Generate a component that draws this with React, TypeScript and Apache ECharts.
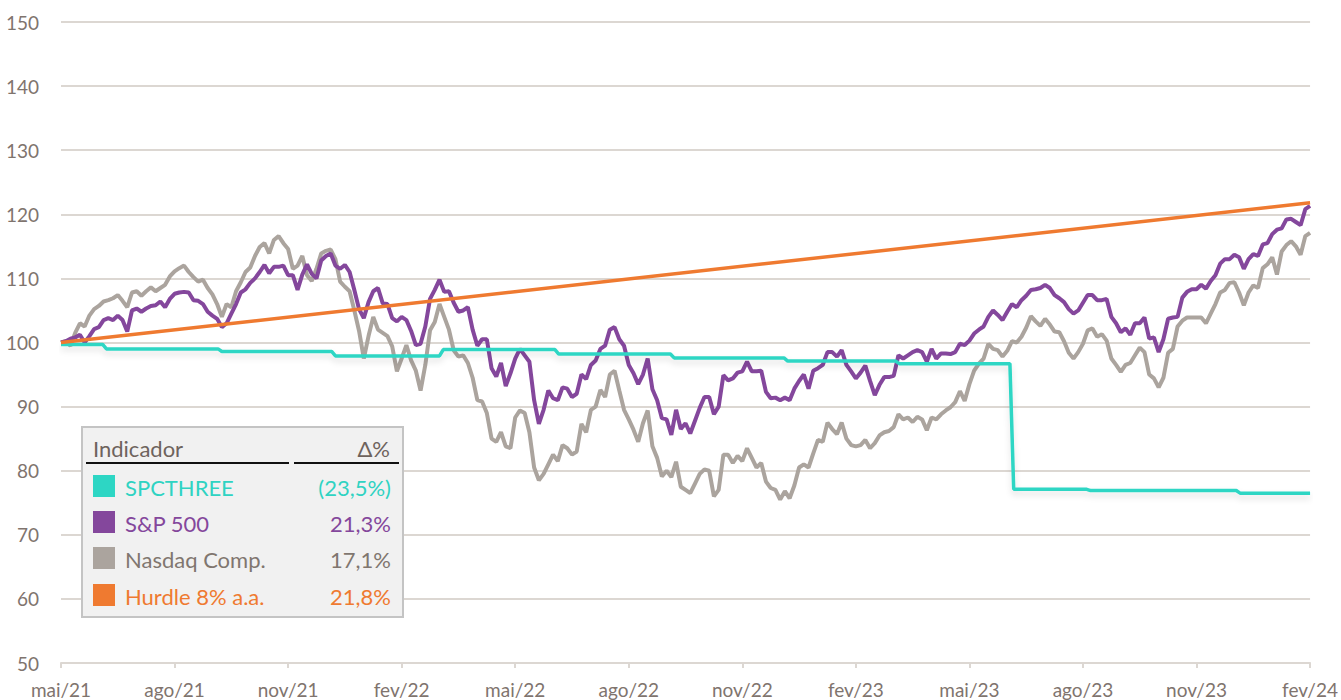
import React, { useEffect, useRef } from "react";
import * as echarts from "echarts";

// x axis: months since mai/21, one label every 3 months
const xLabels = ["mai/21", "ago/21", "nov/21", "fev/22", "mai/22", "ago/22", "nov/22", "fev/23", "mai/23", "ago/23", "nov/23", "fev/24"];
const STEP = 0.125; // months between samples (8 per month)

// one row per month
const sp500 = [
  100, 100.2, 100.6, 100.8, 101.2, 100.0, 101, 102.1,
  102.4, 103.5, 103.8, 103.5, 104.2, 103.5, 101.7, 105,
  105.3, 104.8, 105.3, 105.7, 105.8, 106.4, 105.5, 106.8,
  107.6, 107.8, 107.9, 107.8, 106.6, 106.5, 106, 104.8,
  104.2, 103.7, 102.4, 103, 104.5, 106, 107.8, 108.3,
  109.3, 110, 111, 112.1, 110.8, 111.8, 111.8, 112,
  110.5, 110.5, 108.2, 110.6, 112.2, 110.7, 110, 112.8,
  113.5, 113.9, 112, 111.5, 112.1, 111, 108.2, 105.2,
  103.8, 106.3, 108, 108.5, 106.1, 106, 103.8, 103.3,
  104, 103.5, 101.8, 99.6, 99.8, 102.5, 106.8, 108.2,
  109.8, 107.9, 108, 106.2, 104.8, 105, 105.5, 102,
  99.5, 100.5, 100.5, 96, 94.7, 96.8, 93.2, 95.2,
  97.5, 99, 98, 97, 91, 87.3, 89.5, 92.5,
  91.3, 91, 93, 92.8, 91.5, 92, 95, 94.3,
  96.5, 97.2, 99, 99.5, 102, 102.4, 100.5, 99.5,
  96.5, 95.2, 93.5, 95, 97.5, 92.7, 91, 88.2,
  88, 85.6, 89.5, 86.5, 87.4, 85.8, 87.8, 89.8,
  91.5, 91.5, 88.8, 90, 94.9, 94.1, 94.4, 95.3,
  95.5, 97, 95.5, 95.5, 95.6, 92.3, 91.3, 91.4,
  91, 91.4, 91, 92.8, 94, 95, 92.8, 95.6,
  96, 96.5, 98.5, 98.5, 97.8, 98.8, 96.5, 95.5,
  94.4, 95.3, 96.4, 94, 91.8, 93.4, 94.6, 94.6,
  94.8, 98, 97.5, 98, 98.5, 98.8, 98.5, 97,
  99, 97.5, 98.3, 98.3, 98.2, 98.5, 99.8, 99.6,
  100.3, 101.4, 102, 102.5, 104, 105, 104.3, 103.5,
  104.8, 106, 105.5, 106.6, 107.3, 108.2, 108.3, 108.5,
  109, 108.5, 107.4, 106.9, 106.3, 105.2, 104.5, 105,
  106.2, 107.4, 107.4, 106.6, 106.6, 106.8, 104, 103,
  101.6, 102.2, 101.2, 103, 103, 103.9, 100.6, 100.8,
  98.5, 100.5, 103.7, 103.9, 104, 107, 107.9, 108.3,
  108.3, 109, 108.4, 109.6, 110.5, 112.3, 113, 113,
  113.7, 113.3, 111.5, 113, 113.8, 113.5, 115.3, 115.5,
  116.9, 117.6, 117.8, 119.2, 119.3, 118.8, 118.3, 120.8,
  121.3,
];

const nasdaq = [
  100, 100.2, 99.5, 101.5, 103, 102.5, 104.2, 105.2,
  105.7, 106.4, 106.6, 106.9, 107.4, 106.5, 105.5, 107.8,
  108, 107.3, 108, 108.6, 108, 108.5, 109, 110.3,
  111.1, 111.6, 112, 111, 110.2, 109.5, 109.8, 108.5,
  107.5, 106, 104, 106, 105.5, 108, 109.4, 111,
  111.7, 113.5, 114.9, 115.5, 113.9, 116, 116.6, 115.5,
  114.6, 111.5, 112, 113.5, 110.5, 109.6, 111.5, 113.9,
  114.3, 114.5, 113, 109.5, 108.7, 108, 105, 101.8,
  97.5, 101, 104, 102, 101.5, 101, 99.4, 95.5,
  97.5, 99.6, 97.2, 95.6, 92.5, 96.5, 101.9, 103.2,
  106, 104, 102, 98.8, 97.8, 98, 96.8, 94.5,
  91, 90.8, 89, 85, 84.5, 86, 83.8, 83.5,
  88.3, 89.4, 89, 86, 80.5, 78.5, 79.5, 81,
  82.5, 81.5, 84, 83.5, 82.5, 83, 87.3, 86,
  89.5, 90, 92.6, 91.5, 95, 95.6, 92.5, 89.5,
  88, 86.4, 84.5, 87.4, 89.4, 83.8, 82, 79.1,
  80, 79, 81.4, 77.5, 77, 76.5, 78, 79.5,
  80.2, 80, 76, 77, 82.5, 82.5, 81.2, 82.3,
  81.5, 83.5, 82, 80.5, 81.2, 78.3, 77.3, 77,
  75.5, 76.8, 75.7, 77.7, 80.5, 81, 80.5, 82.7,
  84.8, 84.5, 87.5, 86.5, 85.7, 87.5, 85, 84,
  83.8, 84, 84.8, 83.5, 84.3, 85.5, 86, 86.2,
  86.8, 88.8, 88, 88.3, 87.6, 88.4, 88, 86.3,
  88.3, 88, 88.8, 89.4, 89.9, 90.7, 92.4, 90.9,
  93.5, 95.6, 96.7, 97.5, 99.8, 99, 98.8, 97.8,
  98.7, 100.2, 100, 100.9, 102.3, 104.1, 103.3, 102.6,
  103.7, 102.8, 101.7, 101.6, 100.2, 98.4, 97.5, 98.5,
  99.8, 101.9, 102.2, 100.9, 101.3, 100.3, 97.5, 96.5,
  95.4, 96.5, 96.8, 98, 99.2, 98.5, 95, 94.4,
  93, 94.5, 98.4, 99, 102.5, 103.4, 103.9, 103.9,
  103.9, 103.9, 103, 104.5, 106, 107.8, 108.2, 109.3,
  109.4, 107.8, 105.8, 107.8, 108.9, 108.5, 111.6, 112.2,
  113.3, 110.6, 114.2, 115.2, 115.8, 115, 113.7, 116.6,
  117.1,
];

// [month, value]
const spcthree = [
  [0, 99.7], [1.1, 99.7], [1.2, 99.0], [4.15, 99.0], [4.25, 98.6], [7.15, 98.6],
  [7.25, 97.9], [10.0, 97.9], [10.1, 98.9], [13.05, 98.9], [13.15, 98.2], [16.1, 98.2],
  [16.2, 97.6], [19.1, 97.6], [19.2, 97.1], [22.05, 97.1], [22.15, 96.7], [25.07, 96.7],
  [25.17, 77.1], [27.1, 77.1], [27.2, 76.9], [31.05, 76.9], [31.15, 76.5], [33, 76.5],
];

const hurdle = [[0, 100], [33, 121.8]];

const legendNames = ["SPCTHREE", "S&P 500", "Nasdaq Comp.", "Hurdle 8% a.a."];
const legendChanges = ["(23,5%)", "21,3%", "17,1%", "21,8%"];
const lineColors = ["#2dd6c4", "#84479c", "#aba49e", "#ef7a30"];
const textColors = ["#2fd3c2", "#84479c", "#80766f", "#ef7a30"];

const FONT = "Lato, 'Open Sans', sans-serif";

export default function App() {
  const ref = useRef<HTMLDivElement>(null);
  useEffect(() => {
    if (!ref.current) return;
    const chart = echarts.init(ref.current, null, { renderer: "svg" });

    const rowY = [486, 522, 558, 595];
    const legendEls: any[] = [
      {
        type: "rect",
        shape: { x: 82, y: 427, width: 321, height: 190 },
        style: { fill: "#f1f1f1", stroke: "#c4c4c4", lineWidth: 2 },
        z: 100,
      },
      {
        type: "text",
        x: 93,
        y: 448,
        style: { text: "Indicador", fill: "#6e635d", font: `22px ${FONT}`, align: "left", verticalAlign: "middle" },
        z: 101,
      },
      {
        type: "text",
        x: 390,
        y: 448,
        style: { text: "Δ%", fill: "#6e635d", font: `22px ${FONT}`, align: "right", verticalAlign: "middle" },
        z: 101,
      },
      { type: "line", shape: { x1: 86, y1: 463, x2: 289, y2: 463 }, style: { stroke: "#111", lineWidth: 2 }, z: 101 },
      { type: "line", shape: { x1: 294, y1: 463, x2: 399, y2: 463 }, style: { stroke: "#111", lineWidth: 2 }, z: 101 },
    ];
    legendNames.forEach((name, i) => {
      legendEls.push({
        type: "rect",
        shape: { x: 93, y: rowY[i] - 11, width: 22, height: 22 },
        style: { fill: lineColors[i] },
        z: 101,
      });
      legendEls.push({
        type: "text",
        x: 125,
        y: rowY[i] + 1,
        style: { text: name, fill: textColors[i], font: `22px ${FONT}`, align: "left", verticalAlign: "middle" },
        z: 101,
      });
      legendEls.push({
        type: "text",
        x: 391,
        y: rowY[i] + 1,
        style: { text: legendChanges[i], fill: textColors[i], font: `22px ${FONT}`, align: "right", verticalAlign: "middle" },
        z: 101,
      });
    });

    chart.setOption({
      animation: false,
      grid: { left: 61, right: 27, top: 22, bottom: 37, containLabel: false },
      xAxis: {
        type: "value",
        min: 0,
        max: 33,
        interval: 3,
        axisLine: { show: true, lineStyle: { color: "#dcd7d2", width: 2 } },
        axisTick: { show: true, length: 5, lineStyle: { color: "#dcd7d2", width: 2 } },
        splitLine: { show: false },
        axisLabel: {
          margin: 17,
          color: "#7f746e",
          fontSize: 19,
          fontFamily: FONT,
          showMinLabel: true,
          showMaxLabel: true,
          formatter: (v: number) => xLabels[Math.round(v / 3)] ?? "",
        },
      },
      yAxis: {
        type: "value",
        min: 50,
        max: 150,
        interval: 10,
        axisLine: { show: false },
        axisTick: { show: false },
        splitLine: { show: true, lineStyle: { color: "#dcd7d2", width: 2 } },
        axisLabel: { margin: 22, color: "#7f746e", fontSize: 19, fontFamily: FONT },
      },
      series: [
        {
          name: "Nasdaq Comp.",
          type: "line",
          data: nasdaq.map((v, i) => [i * STEP, v]),
          symbol: "none",
          lineStyle: { color: lineColors[2], width: 4 },
          z: 2,
        },
        {
          name: "S&P 500",
          type: "line",
          data: sp500.map((v, i) => [i * STEP, v]),
          symbol: "none",
          lineStyle: { color: lineColors[1], width: 4 },
          z: 3,
        },
        {
          name: "SPCTHREE",
          type: "line",
          data: spcthree,
          symbol: "none",
          lineStyle: {
            color: lineColors[0],
            width: 3.5,
            shadowBlur: 6,
            shadowColor: "rgba(0,0,0,0.12)",
            shadowOffsetY: 4,
          },
          z: 4,
        },
        {
          name: "Hurdle 8% a.a.",
          type: "line",
          data: hurdle,
          symbol: "none",
          lineStyle: { color: lineColors[3], width: 3.5 },
          z: 5,
        },
      ],
      graphic: { elements: legendEls },
    });
    return () => chart.dispose();
  }, []);
  return (
    <div
      ref={ref}
      style={{ position: "fixed", left: 0, top: 0, width: 1341, height: 700, background: "#fff" }}
    />
  );
}
